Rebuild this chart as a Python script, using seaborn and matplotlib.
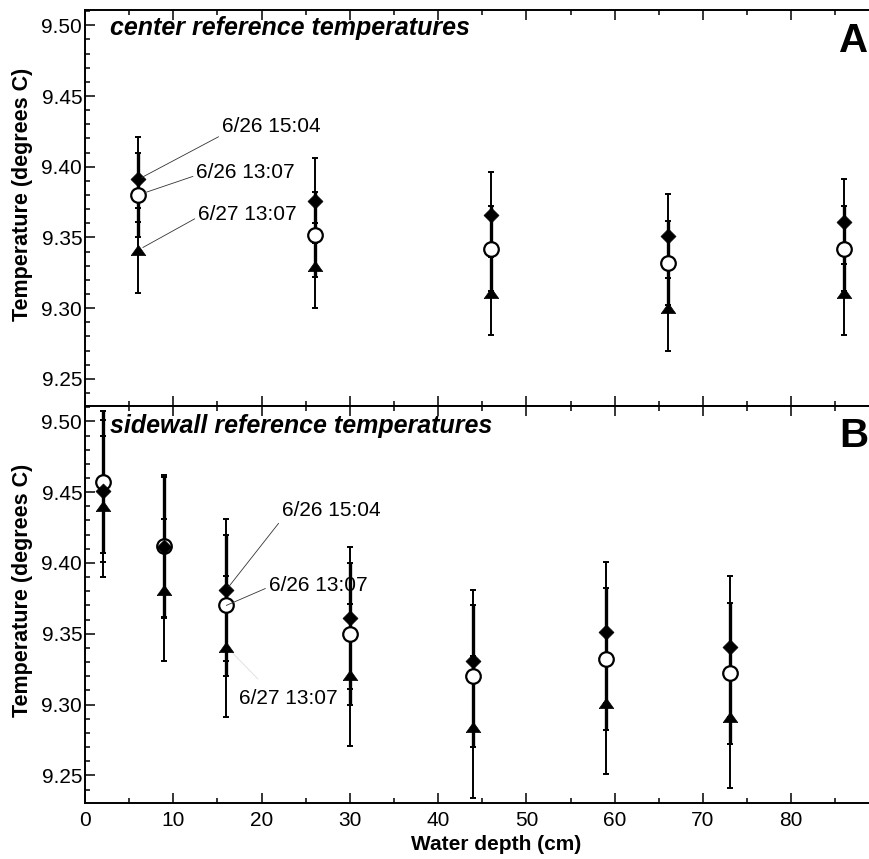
import numpy as np
import pandas as pd
import seaborn as sns
import matplotlib.pyplot as plt
from matplotlib.ticker import MultipleLocator, FormatStrFormatter

# center reference temperatures (panel A)
center_depth = [6, 26, 46, 66, 86]
center_1504 = [9.391, 9.376, 9.366, 9.351, 9.361]
center_1307 = [9.380, 9.352, 9.342, 9.332, 9.342]
center_0627 = [9.341, 9.330, 9.311, 9.300, 9.311]
center_err = 0.03

# sidewall reference temperatures (panel B)
side_depth = [2, 9, 16, 30, 44, 59, 73]
side_1504 = [9.451, 9.411, 9.381, 9.361, 9.331, 9.351, 9.341]
side_1307 = [9.457, 9.412, 9.370, 9.350, 9.320, 9.332, 9.322]
side_0627 = [9.440, 9.381, 9.341, 9.321, 9.284, 9.301, 9.291]
side_err = 0.05

labels = ["6/26 15:04", "6/26 13:07", "6/27 13:07"]

# label positions (data coords) for the annotations
center_label_xy = [(15.5, 9.4285), (12.6, 9.396), (12.8, 9.3665)]
side_label_xy = [(22.3, 9.437), (20.8, 9.3843), (17.4, 9.3043)]
side_faint_end = (19.6, 9.318)

sns.set_style("ticks")
plt.rcParams['font.family'] = ['Liberation Sans', 'DejaVu Sans']
plt.rcParams['text.color'] = 'black'
plt.rcParams['axes.labelcolor'] = 'black'
plt.rcParams['xtick.color'] = 'black'
plt.rcParams['ytick.color'] = 'black'

flat_tri = [(-1, -0.7), (1, -0.7), (0, 0.7), (-1, -0.7)]

fig = plt.figure(figsize=(8.69, 8.59), dpi=100)
L = 85 / 869
W = 1 - L
ax1 = fig.add_axes([L, 0.5268, W, 0.4610])
ax2 = fig.add_axes([L, 0.0652, W, 0.4616])


def draw_panel(ax, depth, s1504, s1307, s0627, err):
    df = pd.DataFrame({"depth": depth, "t1504": s1504,
                       "t1307": s1307, "t0627": s0627})
    ax.errorbar(df.depth, df.t1504, yerr=err, fmt="none", ecolor="black",
                elinewidth=1.4, capsize=2.2, capthick=1.4, zorder=2)
    ax.errorbar(df.depth, df.t0627, yerr=err, fmt="none", ecolor="black",
                elinewidth=1.4, capsize=2.2, capthick=1.4, zorder=2)
    ax.errorbar(df.depth, df.t1307, yerr=err, fmt="none", ecolor="black",
                elinewidth=2.4, capsize=2.2, capthick=1.4, zorder=2)
    sns.scatterplot(data=df, x="depth", y="t1307", ax=ax, marker="o", s=110,
                    facecolor="white", edgecolor="black", linewidth=1.6,
                    zorder=3)
    sns.scatterplot(data=df, x="depth", y="t1504", ax=ax, marker="D", s=58,
                    color="black", edgecolor="black", linewidth=0.5, zorder=4)
    sns.scatterplot(data=df, x="depth", y="t0627", ax=ax, marker=flat_tri,
                    s=110, color="black", edgecolor="black", linewidth=0.5,
                    zorder=5)

    ax.set_xlim(0, 88.8)
    ax.set_ylim(9.2305, 9.5105)
    ax.xaxis.set_major_locator(MultipleLocator(10))
    ax.xaxis.set_minor_locator(MultipleLocator(5))
    ax.yaxis.set_major_locator(MultipleLocator(0.05))
    ax.yaxis.set_minor_locator(MultipleLocator(0.01))
    ax.yaxis.set_major_formatter(FormatStrFormatter("%.2f"))
    ax.tick_params(which="both", direction="in", top=True, right=False,
                   width=1.1, colors="black", labelsize=15)
    ax.tick_params(which="major", length=7, pad=2)
    ax.tick_params(which="minor", length=3.5)
    ax.tick_params(axis="x", which="major", pad=6)
    for side in ["left", "top", "bottom"]:
        ax.spines[side].set_linewidth(1.4)
        ax.spines[side].set_color("black")
    ax.spines["right"].set_visible(False)
    ax.set_ylabel("Temperature (degrees C)", fontsize=15.5, fontweight="bold")
    ax.yaxis.set_label_coords(-0.0665, 0.535)
    ax.set_xlabel("")
    ax.set_facecolor("white")


draw_panel(ax1, center_depth, center_1504, center_1307, center_0627, center_err)
draw_panel(ax2, side_depth, side_1504, side_1307, side_0627, side_err)

ax1.tick_params(axis="x", labelbottom=False)
ax2.set_xlabel("Water depth (cm)", fontsize=15, fontweight="bold")
ax2.xaxis.set_label_coords(0.524, -0.081)

ax1.text(0.032, 0.938, "center reference temperatures", transform=ax1.transAxes,
         fontsize=18, fontweight="bold", fontstyle="italic", va="baseline")
ax2.text(0.032, 0.933, "sidewall reference temperatures", transform=ax2.transAxes,
         fontsize=18, fontweight="bold", fontstyle="italic", va="baseline")
ax1.text(0.999, 0.896, "A", transform=ax1.transAxes, ha="right",
         va="baseline", fontsize=29, fontweight="bold")
ax2.text(0.999, 0.899, "B", transform=ax2.transAxes, ha="right",
         va="baseline", fontsize=29, fontweight="bold")

# annotations, panel A
center_pts = [(center_depth[0], center_1504[0]),
              (center_depth[0], center_1307[0]),
              (center_depth[0], center_0627[0])]
for lab, xy, txy, rel, shr in zip(labels, center_pts, center_label_xy,
                                  [(0, 0.05), (0, 0.35), (0, 0.35)],
                                  [3, 5, 4]):
    ax1.annotate(lab, xy=xy, xytext=txy, fontsize=15, ha="left", va="center",
                 zorder=6,
                 arrowprops=dict(arrowstyle="-", color="#333333", lw=0.6,
                                 relpos=rel, shrinkA=0, shrinkB=shr))

# annotations, panel B
side_pts = [(side_depth[2], side_1504[2]),
            (side_depth[2], side_1307[2])]
for lab, xy, txy, rel, shr in zip(labels[:2], side_pts, side_label_xy[:2],
                                  [(0, 0.05), (0, 0.4)], [3, 0]):
    ax2.annotate(lab, xy=xy, xytext=txy, fontsize=15, ha="left", va="center",
                 zorder=6,
                 arrowprops=dict(arrowstyle="-", color="#333333", lw=0.6,
                                 relpos=rel, shrinkA=0, shrinkB=shr))
ax2.annotate(labels[2], xy=side_label_xy[2], fontsize=15, ha="left",
             va="center", zorder=6)
ax2.annotate("", xy=(side_depth[2], side_0627[2]), xytext=side_faint_end,
             arrowprops=dict(arrowstyle="-", color="#dddddd", lw=0.6,
                             shrinkA=0, shrinkB=5))

fig.savefig("out.png", dpi=100, facecolor="white")
